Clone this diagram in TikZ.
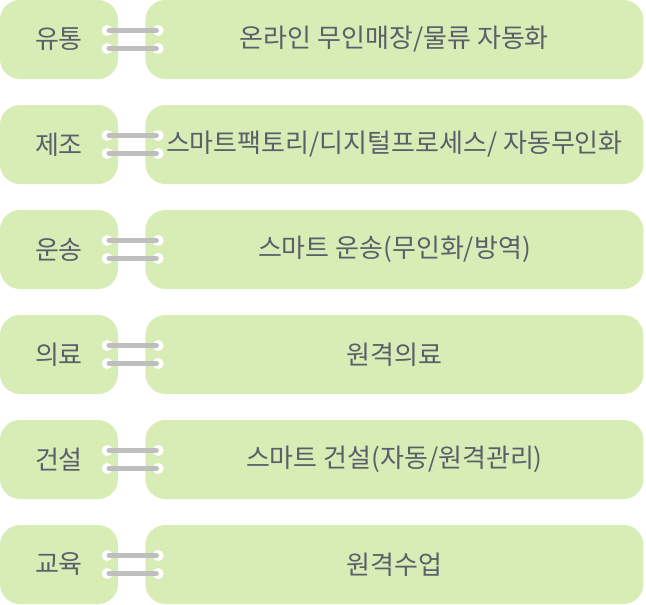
\documentclass[tikz,border=0pt]{standalone}
\usepackage{fontspec}
\usepackage{xcolor}
\usetikzlibrary{calc,positioning}
\newfontfamily\krfont{Noto Sans CJK KR}
\definecolor{boxGreen}{RGB}{216,237,182}
\definecolor{barGrey}{RGB}{190,190,190}
\definecolor{txtGrey}{RGB}{90,95,106}
\tikzset{
  field/.style={rectangle, rounded corners=20pt, fill=boxGreen, inner sep=0,
    minimum width=118pt, minimum height=79pt, text=txtGrey, font=\krfont\fontsize{26}{30}\selectfont},
  detail/.style={field, minimum width=498pt},
  hole/.style={circle, fill=white, inner sep=0, minimum size=11pt},
  bar/.style={barGrey, line width=5.5pt, line cap=round}
}

\begin{document}
\begin{tikzpicture}[x=1pt, y=-1pt]
      \useasboundingbox (0,0) rectangle (646,605);
      % Sectors
      \node[field] (l1) at (59, 39.5) {유통};
      \node[field] (l2) at (59, 144.5) {제조};
      \node[field] (l3) at (59, 249.5) {운송};
      \node[field] (l4) at (59, 354.5) {의료};
      \node[field] (l5) at (59, 459.5) {건설};
      \node[field] (l6) at (59, 564.5) {교육};
      % Details
      \node[detail, right=27pt of l1] (r1) {온라인 무인매장/물류 자동화};
      \node[detail, right=27pt of l2] (r2) {스마트팩토리/디지털프로세스/ 자동무인화};
      \node[detail, right=27pt of l3] (r3) {스마트 운송(무인화/방역)};
      \node[detail, right=27pt of l4] (r4) {원격의료};
      \node[detail, right=27pt of l5] (r5) {스마트 건설(자동/원격관리)};
      \node[detail, right=27pt of l6] (r6) {원격수업};
      % Links between sector and detail
      \foreach \i in {1,...,6} {
        \foreach \dy in {-9, 9} {
          \coordinate (a) at ($(l\i.east)+(-11,\dy)$);
          \coordinate (b) at ($(r\i.west)+(13,\dy)$);
          \node[hole] at (a) {};
          \node[hole] at (b) {};
          \draw[bar] ($(a)+(2,0)$) -- ($(b)+(-2,0)$);
        }
      }
\end{tikzpicture}
\end{document}
